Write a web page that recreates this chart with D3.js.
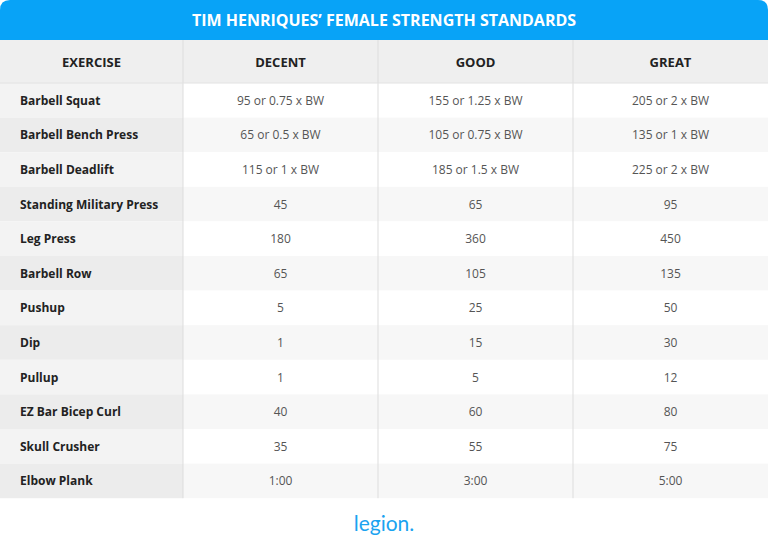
<!DOCTYPE html>
<html><head><meta charset="utf-8">
<script src="https://cdn.jsdelivr.net/npm/d3@7"></script>
<style>body{margin:0;background:#fff;font-family:"Open Sans",Lato,sans-serif;}</style>
</head><body><svg id="chart" width="768" height="554"></svg>
<script>
var title = "TIM HENRIQUES’ FEMALE STRENGTH STANDARDS";
var columns = ["EXERCISE", "DECENT", "GOOD", "GREAT"];
var exercises = ["Barbell Squat", "Barbell Bench Press", "Barbell Deadlift", "Standing Military Press",
  "Leg Press", "Barbell Row", "Pushup", "Dip", "Pullup", "EZ Bar Bicep Curl", "Skull Crusher", "Elbow Plank"];
var decent = ["95 or 0.75 x BW", "65 or 0.5 x BW", "115 or 1 x BW", "45", "180", "65", "5", "1", "1", "40", "35", "1:00"];
var good = ["155 or 1.25 x BW", "105 or 0.75 x BW", "185 or 1.5 x BW", "65", "360", "105", "25", "15", "5", "60", "55", "3:00"];
var great = ["205 or 2 x BW", "135 or 1 x BW", "225 or 2 x BW", "95", "450", "135", "50", "30", "12", "80", "75", "5:00"];

var svg = d3.select("#chart");
var W = 768, titleH = 40, headH = 43, top0 = titleH + headH, rowH = 34.6;
var colX = [0, 183, 378, 573, 768];

// title bar with rounded top corners
svg.append("path")
  .attr("d", "M0,40 V10 Q0,0 10,0 H758 Q768,0 768,10 V40 Z")
  .attr("fill", "#08a3f7");
svg.append("text").attr("x", W / 2).attr("y", 26).attr("text-anchor", "middle")
  .attr("fill", "#fff").attr("font-size", 16).attr("font-weight", 700).text(title);

// header row
svg.append("rect").attr("x", 0).attr("y", titleH).attr("width", W).attr("height", headH).attr("fill", "#efefef");
svg.selectAll(".hd").data(columns).enter().append("text")
  .attr("x", function (d, i) { return (colX[i] + colX[i + 1]) / 2; })
  .attr("y", titleH + headH / 2 + 5).attr("text-anchor", "middle")
  .attr("font-size", 13).attr("font-weight", 700).attr("fill", "#222").text(function (d) { return d; });

var y = d3.scaleBand().domain(d3.range(exercises.length)).range([top0, top0 + rowH * exercises.length]);

var rows = svg.selectAll(".row").data(exercises).enter().append("g")
  .attr("transform", function (d, i) { return "translate(0," + y(i) + ")"; });
rows.append("rect").attr("x", 183).attr("width", W - 183).attr("height", y.bandwidth())
  .attr("fill", function (d, i) { return i % 2 ? "#f7f7f7" : "#fff"; });
rows.append("rect").attr("x", 0).attr("width", 183).attr("height", y.bandwidth())
  .attr("fill", function (d, i) { return i % 2 ? "#ececec" : "#f3f3f3"; });
rows.append("text").attr("x", 20).attr("y", y.bandwidth() / 2 + 4.5)
  .attr("font-size", 12).attr("font-weight", 700).attr("fill", "#222").text(function (d) { return d; });

[decent, good, great].forEach(function (series, c) {
  rows.append("text")
    .attr("x", (colX[c + 1] + colX[c + 2]) / 2).attr("y", y.bandwidth() / 2 + 4.5)
    .attr("text-anchor", "middle").attr("font-size", 12).attr("fill", "#555")
    .text(function (d, i) { return series[i]; });
});

// column separators
svg.selectAll(".sep").data(colX.slice(1, 4)).enter().append("line")
  .attr("x1", function (d) { return d; }).attr("x2", function (d) { return d; })
  .attr("y1", titleH).attr("y2", top0 + rowH * exercises.length)
  .attr("stroke", "#dddddd");
svg.append("line").attr("x1", 0).attr("x2", W).attr("y1", top0).attr("y2", top0).attr("stroke", "#e2e2e2");

// logo
svg.append("text").attr("x", W / 2).attr("y", 531).attr("text-anchor", "middle")
  .attr("font-size", 21).attr("fill", "#1aa3f0").attr("font-family", "Lato").text("legion")
  .append("tspan").attr("font-size", 21).text(".");
</script></body></html>
